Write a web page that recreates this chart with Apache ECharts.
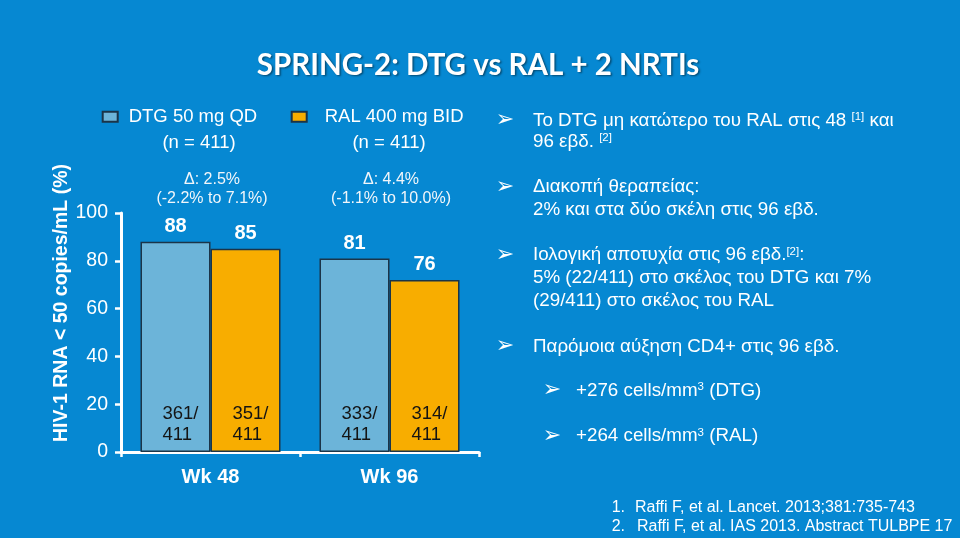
<!DOCTYPE html>
<html><head><meta charset="utf-8">
<script src="https://cdn.jsdelivr.net/npm/echarts@6/dist/echarts.min.js"></script>
<style>html,body{margin:0;padding:0;background:#0688D2;}#c{width:960px;height:538px;}</style>
</head><body><div id="c"></div>
<script>
// ---- data ----
const categories = ['Wk 48', 'Wk 96'];
const seriesNames = ['DTG 50 mg QD', 'RAL 400 mg BID'];
const armN = [411, 411];
const dtgPctLabel = [88, 81];
const ralPctLabel = [85, 76];
const dtgBar = [88, 81];      // bar heights as drawn
const ralBar = [85, 72];
const dtgResp = [361, 333];
const ralResp = [351, 314];
const yMin = 0, yMax = 100, yStep = 20;
const deltaLine1 = ['Δ: 2.5%', 'Δ: 4.4%'];
const deltaLine2 = ['(-2.2% to 7.1%)', '(-1.1% to 10.0%)'];
const titleText = 'SPRING-2: DTG vs RAL + 2 NRTIs';
const yTitle = 'HIV-1 RNA < 50 copies/mL (%)';
const bulletLines = [
  ['Το DTG μη κατώτερο του RAL στις 48 {s|[1]} και', '96 εβδ. {s|[2]}'],
  ['Διακοπή θεραπείας:', '2% και στα δύο σκέλη στις 96 εβδ.'],
  ['Ιολογική αποτυχία στις 96 εβδ.{s|[2]}:', '5% (22/411) στο σκέλος του DTG και 7%', '(29/411) στο σκέλος του RAL'],
  ['Παρόμοια αύξηση CD4+ στις 96 εβδ.']
];
const subBullets = ['+276 cells/mm{s|3} (DTG)', '+264 cells/mm{s|3} (RAL)'];
const refNums = ['1.', '2.'];
const refTexts = ['Raffi F, et al. Lancet. 2013;381:735-743', 'Raffi F, et al. IAS 2013. Abstract TULBPE 17'];

// ---- layout ----
const FONT = 'Liberation Sans, Arial, sans-serif';
const bulletY = [[120.7, 141.7], [187.3, 210], [255, 278.3, 300.5], [346.7]];
const subY = [390.7, 436];
const refY = [507.3, 526.7];

const chart = echarts.init(document.getElementById('c'), null, {renderer: 'canvas'});
const white = '#ffffff';
const border = {borderColor: '#1B3448', borderWidth: 1.5};

const option = {
  backgroundColor: '#0688D2',
  animation: false,
  grid: {left: 121, right: 481, top: 213, bottom: 86, containLabel: false},
  legend: [
    {data: [seriesNames[0]], left: 101.7, top: 101.7, padding: 0, icon: 'rect', itemWidth: 15, itemHeight: 10,
     textStyle: {color: white, fontSize: 18.5, fontFamily: FONT, lineHeight: 22, padding: [8, 0, 0, 6]}},
    {data: [seriesNames[1]], left: 290.7, top: 101.7, padding: 0, icon: 'rect', itemWidth: 15, itemHeight: 10,
     textStyle: {color: white, fontSize: 18.5, fontFamily: FONT, lineHeight: 22, padding: [8, 0, 0, 13]}}
  ],
  xAxis: [
    {type: 'category', data: categories, boundaryGap: true,
     axisLine: {lineStyle: {color: white, width: 3}},
     axisTick: {show: true, length: 5, lineStyle: {color: white, width: 2.5}},
     axisLabel: {color: white, fontSize: 20, fontWeight: 'bold', fontFamily: FONT, margin: 15}},
    {type: 'category', data: categories, show: false}
  ],
  yAxis: {
    type: 'value', min: yMin, max: yMax, interval: yStep,
    axisLine: {show: true, lineStyle: {color: white, width: 3}},
    axisTick: {show: true, length: 6, lineStyle: {color: white, width: 2.5}},
    axisLabel: {color: white, fontSize: 19.5, fontFamily: FONT, margin: 13},
    splitLine: {show: false}
  },
  series: [
    {name: seriesNames[0], type: 'bar', xAxisIndex: 0, data: dtgBar, barWidth: 70, barGap: '0%',
     itemStyle: Object.assign({color: '#6CB4D9'}, border),
     label: {show: true, position: 'top', distance: 5, color: white, fontSize: 20, fontWeight: 'bold', fontFamily: FONT,
             formatter: p => String(dtgPctLabel[p.dataIndex])}},
    {name: seriesNames[1], type: 'bar', xAxisIndex: 0, data: ralBar, barWidth: 70, barGap: '0%',
     itemStyle: Object.assign({color: '#F8AD00'}, border),
     label: {show: true, position: 'top', distance: 5, color: white, fontSize: 20, fontWeight: 'bold', fontFamily: FONT,
             formatter: p => String(ralPctLabel[p.dataIndex])}},
    {name: 'dtgFrac', type: 'bar', xAxisIndex: 1, data: dtgBar, barWidth: 70, barGap: '0%', silent: true,
     itemStyle: {color: 'rgba(0,0,0,0)'},
     label: {show: true, position: 'insideBottom', distance: 6, align: 'left', offset: [-13, 0], color: '#141414',
             fontSize: 18.5, lineHeight: 21.5, fontFamily: FONT,
             formatter: p => dtgResp[p.dataIndex] + '/\n' + armN[0]}},
    {name: 'ralFrac', type: 'bar', xAxisIndex: 1, data: ralBar, barWidth: 70, barGap: '0%', silent: true,
     itemStyle: {color: 'rgba(0,0,0,0)'},
     label: {show: true, position: 'insideBottom', distance: 6, align: 'left', offset: [-13, 0], color: '#141414',
             fontSize: 18.5, lineHeight: 21.5, fontFamily: FONT,
             formatter: p => ralResp[p.dataIndex] + '/\n' + armN[1]}}
  ]
};
chart.setOption(option);

// ---- annotations ----
const g = [];
const txt = (x, y, text, extra) => g.push({type: 'text', x, y, silent: true,
  style: Object.assign({text, fill: white, fontSize: 18.8, fontFamily: FONT, align: 'left', verticalAlign: 'middle',
    rich: {s: {fontSize: 11.5, fontFamily: FONT, verticalAlign: 'top', fill: white, padding: [0, 0, 6, 0]}}}, extra || {})});

// title
txt(478, 65, titleText, {fontSize: 29.5, fontWeight: 'bold', fontFamily: 'Lato, Open Sans, sans-serif', align: 'center',
  textShadowColor: 'rgba(0,0,0,0.45)', textShadowBlur: 2, textShadowOffsetX: 1.5, textShadowOffsetY: 1.5});

// y-axis title
g.push({type: 'text', x: 62, y: 303, rotation: Math.PI / 2, silent: true,
  style: {text: yTitle, fill: white, fontSize: 19.5, fontWeight: 'bold', fontFamily: FONT, align: 'center', verticalAlign: 'middle'}});

// legend second lines
const legendCx = [199, 389];
armN.forEach((n, i) => txt(legendCx[i], 142.7, '(n = ' + n + ')', {align: 'center', fontSize: 18.5}));

// deltas centred on the categories
categories.forEach((c, i) => {
  const px = chart.convertToPixel({xAxisIndex: 0}, c);
  txt(px + 1.5, 180, deltaLine1[i], {align: 'center', fontSize: 16, fill: '#F2F6FA'});
  txt(px + 1.5, 199, deltaLine2[i], {align: 'center', fontSize: 16, fill: '#F2F6FA'});
});

// bullets
bulletLines.forEach((lines, i) => {
  txt(505, bulletY[i][0], '➢', {align: 'center', fontSize: 22, fontFamily: 'DejaVu Sans'});
  lines.forEach((l, j) => txt(533, bulletY[i][j], l));
});
subBullets.forEach((l, i) => {
  txt(552, subY[i], '➢', {align: 'center', fontSize: 22, fontFamily: 'DejaVu Sans'});
  txt(576, subY[i], l);
});
refNums.forEach((n, i) => {
  txt(611.7, refY[i], n, {fontSize: 16});
  txt(i === 0 ? 635 : 637, refY[i], refTexts[i], {fontSize: 16});
});

chart.setOption({graphic: g});
</script></body></html>
